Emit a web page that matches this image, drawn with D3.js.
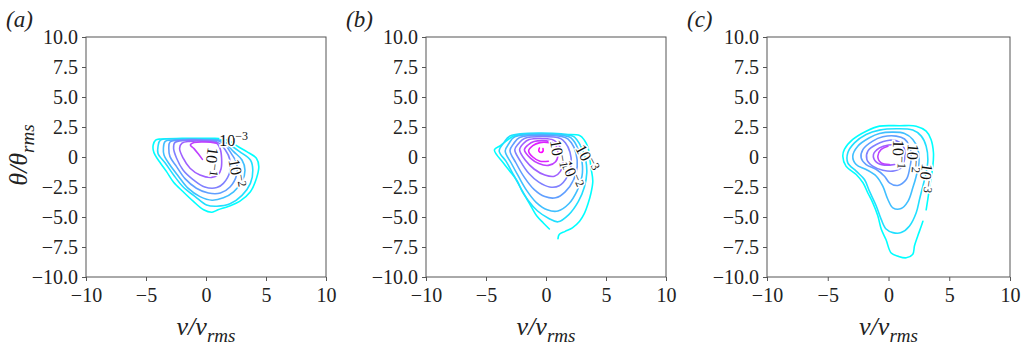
<!DOCTYPE html>
<html>
<head>
<meta charset="utf-8">
<script src="https://cdn.jsdelivr.net/npm/d3@7"></script>
</head>
<body style="margin:0">
<svg id="fig" width="1024" height="346" style="font-family:'Liberation Serif'"></svg>
<script>
// ---- data -------------------------------------------------------------
const panelNames = ["(a)", "(b)", "(c)"];
const xTicks = [-10, -5, 0, 5, 10];
const yTicks = [-10, -7.5, -5, -2.5, 0, 2.5, 5, 7.5, 10];
const levelCount = 9; // contour levels shared by all panels (index 0 = lowest)

// joint PDF iso-lines, panel (a): [level index, closed?, points (v/v_rms, θ/θ_rms)]
const contoursA = [
  [0, true, [[-4.2,1.4],[-4.4,1.0],[-4.4,0.6],[-4.25,0.17],[-3.8,-0.5],[-3.3,-1.2],[-2.7,-2.1],[-1.9,-2.9],[-1.05,-3.7],[-0.2,-4.4],[0.5,-4.6],[1.0,-4.4],[1.9,-4.1],[2.8,-3.7],[3.7,-2.9],[4.2,-1.8],[4.4,-0.8],[4.2,-0.1],[3.4,0.45],[2.7,0.85],[2.0,1.3],[1.4,1.52],[0,1.55],[-2,1.55],[-3.8,1.5]]],
  [1, true, [[-3.8,1.4],[-4.0,0.86],[-4.0,0.3],[-3.4,-0.5],[-2.7,-1.5],[-1.9,-2.5],[-0.9,-3.3],[0.05,-4.0],[0.9,-4.1],[2.0,-3.9],[3.0,-3.2],[3.7,-2.2],[3.9,-1.1],[3.7,-0.25],[2.8,0.45],[2.0,1.0],[1.3,1.4],[0,1.48],[-2,1.5]]],
  [2, true, [[-3.4,1.3],[-3.55,0.7],[-3.5,0.17],[-3.0,-0.67],[-2.3,-1.6],[-1.5,-2.6],[-0.5,-3.3],[0.5,-3.6],[1.45,-3.4],[2.3,-2.9],[3.0,-2.05],[3.25,-1.1],[3.0,-0.25],[2.3,0.45],[1.6,1.14],[1.2,1.38],[0,1.45],[-2,1.45]]],
  [3, true, [[-3.0,1.25],[-3.1,0.72],[-3.0,0.03],[-2.45,-0.8],[-1.75,-1.8],[-0.8,-2.6],[0.2,-3.0],[1.2,-3.0],[2.0,-2.5],[2.55,-1.5],[2.55,-0.5],[2.1,0.3],[1.6,1.0],[1.0,1.35],[0,1.42],[-2,1.42]]],
  [4, true, [[-2.6,1.2],[-2.7,0.72],[-2.45,-0.1],[-1.9,-1.1],[-1.05,-1.9],[-0.1,-2.5],[0.9,-2.55],[1.45,-2.2],[2.0,-1.2],[2.0,-0.25],[1.6,0.6],[1.0,1.2],[0,1.38],[-1.8,1.38]]],
  [5, true, [[-2.0,1.15],[-2.2,0.72],[-1.9,-0.1],[-1.33,-0.94],[-0.5,-1.5],[0.47,-1.7],[1.0,-1.5],[1.25,-1.0],[1.3,-0.1],[1.17,0.72],[0.9,1.14],[0,1.3],[-1.4,1.3]]],
  [6, false, [[-0.3,-0.2],[-0.6,0.2],[-1.0,0.7],[-1.3,1.0],[-1.0,1.2],[0,1.25],[0.9,1.15]]]
];

// panel (b)
const contoursB = [
  [0, false, [[0.28,-6.0],[-0.22,-5.5],[-0.78,-4.9],[-1.2,-4.2],[-1.6,-3.5],[-2.0,-2.85],[-2.4,-2.0],[-3.0,-1.2],[-3.55,-0.5],[-4.3,0.6],[-3.8,0.95],[-3.3,1.35],[-2.7,1.75],[-2.0,1.85],[1.0,1.85],[2.8,1.8],[3.2,1.4],[3.5,0.8],[3.75,-0.9],[3.9,-2.0],[3.75,-3.0],[3.5,-3.9],[3.2,-4.7],[2.8,-5.35],[2.2,-5.9],[1.6,-6.2],[1.1,-6.45],[1.0,-6.8]]],
  [1, true, [[-3.9,0.5],[-3.3,-0.4],[-2.7,-1.5],[-2.1,-2.6],[-1.5,-3.6],[-0.7,-4.5],[0.2,-5.1],[1.0,-5.4],[1.9,-4.8],[2.7,-3.7],[3.2,-2.5],[3.4,-1.3],[3.3,-0.2],[3.0,0.7],[2.6,1.4],[2.2,1.75],[-3.0,1.75],[-3.5,1.2]]],
  [2, true, [[-3.4,0.5],[-2.9,-0.5],[-2.3,-1.6],[-1.6,-2.8],[-0.8,-3.8],[0.1,-4.4],[1.0,-4.5],[1.9,-3.9],[2.6,-2.8],[3.0,-1.6],[3.0,-0.4],[2.7,0.6],[2.3,1.35],[1.9,1.68],[-2.6,1.68],[-3.1,1.1]]],
  [3, true, [[-3.0,0.55],[-2.5,-0.5],[-1.8,-1.7],[-1.0,-2.7],[-0.1,-3.3],[0.8,-3.4],[1.6,-2.9],[2.3,-1.9],[2.6,-0.8],[2.5,0.3],[2.1,1.2],[1.6,1.62],[-2.2,1.62],[-2.7,1.1]]],
  [4, true, [[-2.6,0.6],[-2.1,-0.4],[-1.4,-1.4],[-0.6,-2.1],[0.3,-2.5],[1.1,-2.4],[1.8,-1.6],[2.1,-0.6],[2.0,0.4],[1.6,1.2],[1.2,1.55],[-1.8,1.55],[-2.3,1.1]]],
  [5, true, [[-2.2,0.6],[-1.7,-0.3],[-1.0,-1.0],[-0.1,-1.5],[0.7,-1.6],[1.2,-1.2],[1.4,-0.4],[1.3,0.5],[0.9,1.2],[0.5,1.45],[-1.4,1.45],[-1.9,1.1]]],
  [6, true, [[-1.8,0.6],[-1.3,-0.1],[-0.6,-0.55],[0.2,-0.7],[0.8,-0.4],[1.0,0.3],[0.8,1.0],[0.3,1.3],[-1.0,1.3],[-1.5,1.0]]],
  [7, false, [[0.2,-0.35],[-0.5,-0.35],[-1.1,0.0],[-1.45,0.5],[-1.1,0.95],[-0.5,1.2],[0.3,1.2]]],
  [8, false, [[-0.55,0.75],[-0.6,0.5],[-0.42,0.38],[-0.25,0.48],[-0.25,0.7]]]
];

// panel (c)
const contoursC = [
  [0, false, [[2.83,-5.35],[2.7,-5.75],[2.4,-6.6],[2.14,-7.4],[2.0,-8.1],[1.46,-8.4],[0.77,-8.26],[0.22,-8.0],[-0.2,-6.9],[-0.6,-6.0],[-0.88,-4.9],[-1.3,-3.8],[-1.7,-3.0],[-2.1,-2.15],[-2.66,-1.46],[-3.5,-0.76],[-3.76,0.07],[-3.63,0.63],[-2.94,1.46],[-1.84,2.15],[-0.74,2.57],[0.9,2.6],[2.28,2.57],[3.1,2.15],[3.5,1.46],[3.7,0.35],[3.65,-0.76],[3.4,-2.4],[3.24,-3.5],[3.1,-4.4]]],
  [1, true, [[-1.84,1.88],[-2.8,1.18],[-3.35,0.35],[-3.35,-0.49],[-2.66,-1.18],[-1.98,-1.88],[-1.57,-2.85],[-1.0,-4.1],[-0.6,-5.2],[-0.2,-6.0],[0.36,-6.3],[1.04,-6.3],[1.73,-5.75],[2.28,-4.65],[2.55,-3.54],[2.83,-2.43],[3.1,-1.3],[3.24,-0.2],[3.1,0.9],[2.7,1.74],[2.0,2.24],[0.63,2.35],[-0.74,2.24]]],
  [2, true, [[-1.57,1.6],[-2.53,0.9],[-2.94,0.07],[-2.66,-0.63],[-1.84,-1.04],[-1.0,-1.6],[-0.47,-2.43],[-0.05,-3.54],[0.36,-4.24],[1.04,-4.3],[1.6,-3.7],[2.0,-2.57],[2.28,-1.6],[2.5,-0.49],[2.42,0.63],[2.0,1.46],[1.32,1.96],[0.36,2.07],[-0.74,1.96]]],
  [3, true, [[-1.3,1.32],[-2.1,0.63],[-2.25,-0.07],[-1.84,-0.63],[-1.0,-1.04],[-0.33,-1.6],[0.08,-2.15],[0.77,-2.37],[1.46,-1.88],[1.73,-1.04],[1.87,0.07],[1.73,0.9],[1.32,1.5],[0.63,1.74],[-0.47,1.68]]],
  [4, true, [[-1.0,1.04],[-1.7,0.49],[-1.78,-0.2],[-1.3,-0.76],[-0.47,-1.1],[0.36,-1.18],[1.04,-0.9],[1.32,-0.2],[1.32,0.63],[0.9,1.24],[0.08,1.4]]],
  [5, false, [[0.5,-0.62],[-0.33,-0.68],[-1.0,-0.43],[-1.24,0.2],[-0.74,0.76],[0.0,1.0],[0.6,1.0]]],
  [6, false, [[0.08,-0.62],[-0.6,-0.49],[-0.88,0.07],[-0.6,0.63],[-0.05,0.9]]]
];

// inline contour labels: [exponent text, v/v_rms, θ/θ_rms, rotation in degrees]
const labelsA = [["−3", 2.3, 1.42, 0], ["−2", 2.55, -1.36, 80], ["−1", 0.47, -0.39, 98]];
const labelsB = [["−3", 3.4, -0.1, 62], ["−2", 2.14, -1.45, 66], ["−1", 1.0, 0.25, 80]];
const labelsC = [["−3", 3.06, -1.76, 98], ["−2", 1.99, -0.11, 94], ["−1", 0.81, 0.22, 92]];

const panelContours = [contoursA, contoursB, contoursC];
const panelLabels = [labelsA, labelsB, labelsC];

// ---- layout -------------------------------------------------------------
const frames = [
  { left: 86, width: 240, tag: 6 },
  { left: 426, width: 240, tag: 346 },
  { left: 767, width: 243, tag: 687 }
];
const plotTop = 37, plotBottom = 277;
const axisColor = "#555";
const textColor = "#222";
const FONT_CSS = "font-family:'Liberation Serif'";

const svg = d3.select("#fig");
const levelColor = i => d3.interpolateRgb("#00ffff", "#ff00ff")(i / (levelCount - 1));
const fmtY = d => d === 0 ? "0" : d3.format(".1f")(d);

frames.forEach((f, p) => {
  const x = d3.scaleLinear().domain([-10, 10]).range([f.left, f.left + f.width]);
  const y = d3.scaleLinear().domain([-10, 10]).range([plotBottom, plotTop]);
  const g = svg.append("g");

  // axes and frame
  const ax = g.append("g").attr("transform", `translate(0,${plotBottom})`)
    .call(d3.axisBottom(x).tickValues(xTicks).tickSize(4).tickPadding(7).tickFormat(d3.format("d")));
  const ay = g.append("g").attr("transform", `translate(${f.left},0)`)
    .call(d3.axisLeft(y).tickValues(yTicks).tickSize(4).tickPadding(4).tickFormat(fmtY));
  [ax, ay].forEach(a => {
    a.attr("font-family", null).attr("font-size", 20).attr("style", FONT_CSS);
    a.select(".domain").remove();
    a.selectAll("line").attr("stroke", axisColor);
    a.selectAll("text").attr("style", FONT_CSS).attr("fill", textColor);
  });
  g.append("rect").attr("x", f.left).attr("y", plotTop)
    .attr("width", f.width).attr("height", plotBottom - plotTop)
    .attr("fill", "none").attr("stroke", axisColor).attr("stroke-width", 1);

  // contour lines
  const gl = g.append("g").attr("fill", "none").attr("stroke-width", 1.6)
    .attr("stroke-linejoin", "round").attr("stroke-linecap", "round");
  panelContours[p].forEach(([lvl, closed, pts]) => {
    const line = d3.line().x(d => x(d[0])).y(d => y(d[1]))
      .curve(closed ? d3.curveCatmullRomClosed.alpha(0.5) : d3.curveCatmullRom.alpha(0.5));
    gl.append("path").attr("d", line(pts)).attr("stroke", levelColor(lvl));
  });

  // contour labels (white halo opens a gap in the line beneath)
  panelLabels[p].forEach(([ex, lx, ly, rot]) => {
    const t = g.append("text")
      .attr("transform", `translate(${x(lx)},${y(ly)}) rotate(${rot})`)
      .attr("text-anchor", "middle").attr("dy", "0.35em")
      .attr("style", FONT_CSS).attr("font-size", 16).attr("fill", "#111")
      .attr("stroke", "#fff").attr("stroke-width", 3).attr("paint-order", "stroke");
    t.append("tspan").text("10");
    t.append("tspan").attr("dy", "-0.45em").attr("font-size", 12).text(ex);
  });

  // x label v/v_rms
  const xl = g.append("text").attr("x", f.left + f.width / 2).attr("y", 335)
    .attr("text-anchor", "middle").attr("style", FONT_CSS + ";font-style:italic")
    .attr("font-size", 26).attr("fill", textColor);
  xl.append("tspan").text("v/v");
  xl.append("tspan").attr("dy", 7).attr("font-size", 19).text("rms");

  // panel tag
  g.append("text").attr("x", f.tag).attr("y", 27)
    .attr("style", FONT_CSS + ";font-style:italic").attr("font-size", 23)
    .attr("fill", textColor).text(panelNames[p]);
});

// y label θ/θ_rms (first panel only)
const yl = svg.append("text").attr("transform", "translate(27,155) rotate(-90)")
  .attr("text-anchor", "middle").attr("style", FONT_CSS + ";font-style:italic")
  .attr("font-size", 26).attr("fill", textColor);
yl.append("tspan").text("θ/θ");
yl.append("tspan").attr("dy", 7).attr("font-size", 19).text("rms");
</script>
</body>
</html>
